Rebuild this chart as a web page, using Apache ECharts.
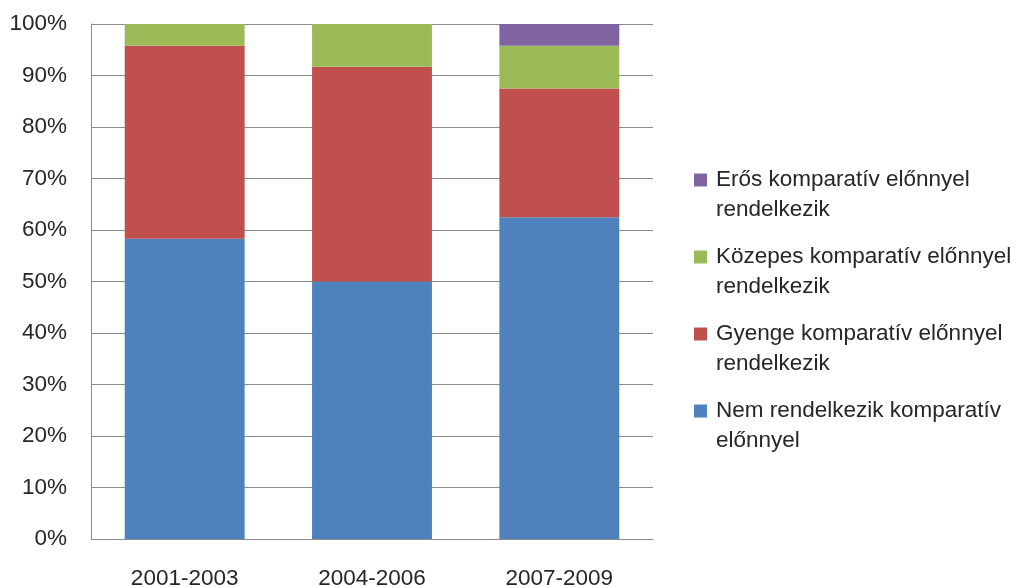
<!DOCTYPE html>
<html><head><meta charset="utf-8">
<script src="https://cdn.jsdelivr.net/npm/echarts@6/dist/echarts.min.js"></script>
<style>html,body{margin:0;padding:0;background:#fff}#c{width:1022px;height:587px}</style>
</head><body><div id="c"></div>
<script>
const categories = ['2001-2003', '2004-2006', '2007-2009'];
const nemRendelkezik = [58.3, 50.0, 62.5];
const gyenge = [37.5, 41.7, 25.0];
const kozepes = [4.2, 8.3, 8.3];
const eros = [0, 0, 4.2];
const yTicks = [0, 10, 20, 30, 40, 50, 60, 70, 80, 90, 100];
const legendNames = [
  'Erős komparatív előnnyel\nrendelkezik',
  'Közepes komparatív előnnyel\nrendelkezik',
  'Gyenge komparatív előnnyel\nrendelkezik',
  'Nem rendelkezik komparatív\nelőnnyel'
];

const font = 'Liberation Sans';
const txt = '#262626';
const chart = echarts.init(document.getElementById('c'), null, {renderer: 'canvas'});
function s(name, data, color) {
  return {name, type: 'bar', stack: 'a', data, barWidth: '64%',
    itemStyle: {color}, emphasis: {disabled: true}};
}
chart.setOption({
  animation: false,
  grid: {left: 91, right: 369, top: 24, bottom: 48, containLabel: false, outerBoundsMode: 'none'},
  legend: {
    orient: 'vertical', left: 689, top: 130, itemWidth: 13, itemHeight: 13, itemGap: -13,
    icon: 'rect',
    data: [legendNames[0], legendNames[1], legendNames[2], legendNames[3]],
    formatter: n => '\n' + n,
    textStyle: {fontFamily: font, fontSize: 22.5, color: txt, lineHeight: 30, padding: [0, 0, 0, 4]},
    selectedMode: false
  },
  xAxis: {
    type: 'category', data: categories,
    axisLine: {lineStyle: {color: '#8c8c8c'}}, axisTick: {show: false},
    axisLabel: {fontFamily: font, fontSize: 22.5, color: txt, margin: 28}
  },
  yAxis: {
    type: 'value', min: 0, max: 100, interval: 10,
    axisLine: {show: true, lineStyle: {color: '#8c8c8c'}}, axisTick: {show: false},
    splitLine: {lineStyle: {color: '#8c8c8c'}},
    axisLabel: {fontFamily: font, fontSize: 22.5, color: txt, margin: 24,
      formatter: v => yTicks.includes(v) ? v + '%' : ''}
  },
  series: [
    s(legendNames[3], nemRendelkezik, '#4F81BD'),
    s(legendNames[2], gyenge, '#C0504D'),
    s(legendNames[1], kozepes, '#9BBB59'),
    s(legendNames[0], eros, '#8064A2')
  ]
});
</script></body></html>
